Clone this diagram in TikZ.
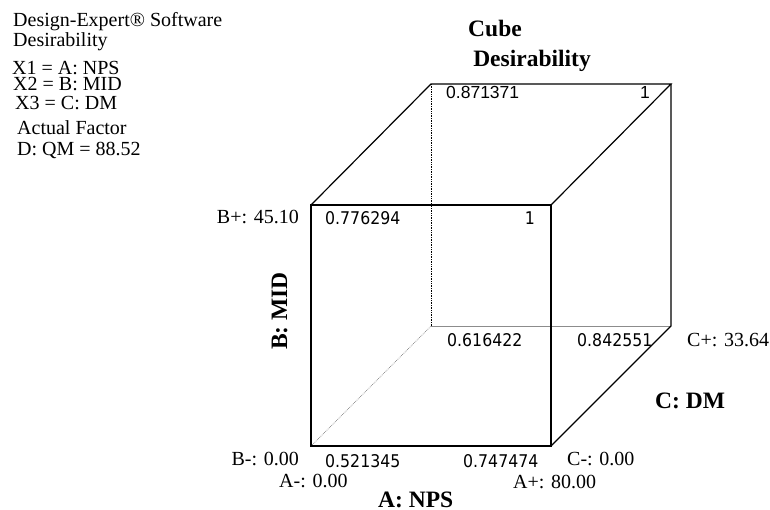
\documentclass[tikz,border=0pt]{standalone}
\usepackage{fontspec}
\setmainfont{Liberation Serif}
\newfontfamily\valfont[FakeStretch=0.9]{DejaVu Sans}
\newfontfamily\arialfont{Liberation Sans}
\begin{document}
\begin{tikzpicture}[x=1pt,y=-1pt,
  lbl/.style={inner sep=0pt, font=\fontsize{20}{20}\selectfont},
  axlbl/.style={inner sep=0pt, font=\fontsize{23.5}{24}\selectfont\bfseries},
  val/.style={inner sep=0pt, font=\valfont\fontsize{17.5}{18}\selectfont},
  valb/.style={inner sep=0pt, font=\arialfont\fontsize{17.5}{18}\selectfont},
  cubeedge/.style={line width=1.2pt, black},
  hidvert/.style={line width=0.7pt, black, densely dotted},
  hidline/.style={line width=0.6pt, black!45},
  hiddiag/.style={line width=0.7pt, black!50, densely dotted}]
\useasboundingbox (0,0) rectangle (770,510);
% legend
\node[lbl, anchor=base west] (l1) at (13,27) {Design-Expert® Software};
\node[lbl, anchor=base west] (l2) at (13,47) {Desirability};
\node[lbl, anchor=base west] (l3) at (12,75) {X1 = A: NPS};
\node[lbl, anchor=base west] (l4) at (13,91) {X2 = B: MID};
\node[lbl, anchor=base west] (l5) at (15,110) {X3 = C: DM};
\node[lbl, anchor=base west] (l6) at (17,135) {Actual Factor};
\node[lbl, anchor=base west] (l7) at (17,156) {D: QM = 88.52};
% title
\node[axlbl, anchor=base] (t1) at (495,37) {Cube};
\node[axlbl, anchor=base] (t2) at (532,67) {Desirability};
% cube corners
\coordinate (FBL) at (311,446);
\coordinate (FBR) at (551,446);
\coordinate (FTL) at (311,205);
\coordinate (FTR) at (551,205);
\coordinate (BBL) at (431,326);
\coordinate (BBR) at (671,326);
\coordinate (BTL) at (431,84);
\coordinate (BTR) at (671,84);
% hidden edges
\draw[hidvert] (BTL) -- (BBL);
\draw[hidline] (BBL) -- (BBR);
\draw[hiddiag] (FBL) -- (BBL);
% visible edges
\draw[cubeedge] (FBL) -- (FBR) -- (FTR) -- (FTL) -- cycle;
\draw[cubeedge] (FTL) -- (BTL) -- (BTR) -- (FTR);
\draw[cubeedge] (BTR) -- (BBR) -- (FBR);
% values
\node[valb, anchor=base west] (v1) at (446,99) {0.871371};
\node[valb, anchor=base east] (v2) at (650,99) {1};
\node[val, anchor=base west] (v3) at (325,225) {0.776294};
\node[val, anchor=base east] (v4) at (535,225) {1};
\node[val, anchor=base west] (v5) at (447,346) {0.616422};
\node[val, anchor=base west] (v6) at (577,346) {0.842551};
\node[val, anchor=base west] (v7) at (325,467) {0.521345};
\node[val, anchor=base west] (v8) at (463,467) {0.747474};
% factor level labels
\node[lbl, anchor=base east] (bp) at (299,224) {B+: 45.10};
\node[lbl, anchor=base east] (bm) at (299,465) {B-: 0.00};
\node[lbl, anchor=base west] (am) at (279,487) {A-: 0.00};
\node[lbl, anchor=base west] (ap) at (513,488) {A+: 80.00};
\node[lbl, anchor=base west] (cm) at (567,465) {C-: 0.00};
\node[lbl, anchor=base west] (cp) at (687,346) {C+: 33.64};
% axis labels
\node[axlbl, anchor=base west] (axA) at (378,507) {A: NPS};
\node[axlbl, anchor=base west] (axC) at (655,408) {C: DM};
\node[axlbl, anchor=base, rotate=90] (axB) at (287,311) {B: MID};
\end{tikzpicture}
\end{document}
